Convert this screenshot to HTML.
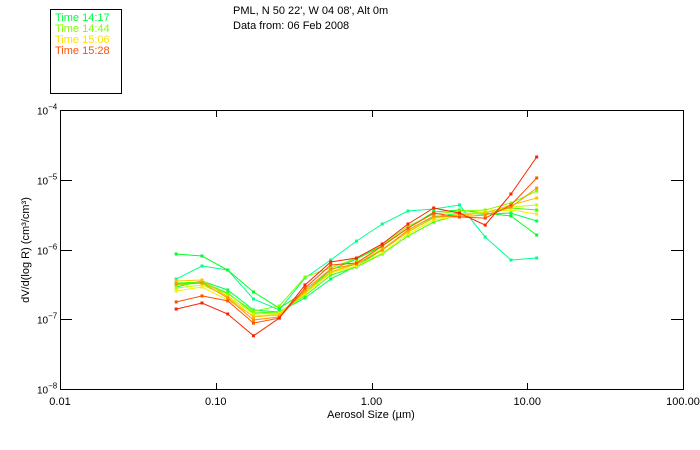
<!DOCTYPE html>
<html><head><meta charset="utf-8"><style>
html,body{margin:0;padding:0;background:#fff;}
svg{display:block;font-family:"Liberation Sans",sans-serif;}
</style></head><body>
<svg id="chart" width="700" height="450" viewBox="0 0 700 450">
<rect x="0" y="0" width="700" height="450" fill="#fff"/>
<rect x="50.5" y="9.5" width="71" height="84" fill="none" stroke="#000"/>
<g font-size="11">
<text x="55" y="21" fill="#00ff40">Time 14:17</text>
<text x="55" y="32" fill="#80ff00">Time 14:44</text>
<text x="55" y="43" fill="#ffe000">Time 15:06</text>
<text x="55" y="54" fill="#ff5000">Time 15:28</text>
</g>
<text x="233" y="14" font-size="11" fill="#000">PML, N 50 22', W 04 08', Alt 0m</text>
<text x="233" y="29" font-size="11" fill="#000">Data from: 06 Feb 2008</text>
<g id="axes"></g>
<g id="series"></g>
<text x="371" y="418" font-size="11" text-anchor="middle">Aerosol Size (µm)</text>
<text transform="translate(29,250) rotate(-90)" font-size="11" text-anchor="middle">dV/d(log R) (cm³/cm³)</text>
</svg>
<script>
// Particle size bins (µm)
const sizes = [0.0557,0.0816,0.1194,0.1747,0.2556,0.374,0.547,0.801,1.172,1.715,2.51,3.67,5.37,7.86,11.5];
const xTicks = [0.01,0.1,1,10,100];
const xTickLabels = ["0.01","0.10","1.00","10.00","100.00"];
const yTickExps = [-4,-5,-6,-7,-8];
const seriesColors = ["#ff2000","#ff5000","#ff9000","#ffc000","#f0f000","#c0ff00","#80ff00","#40ff00","#00ff20","#00ff50","#00ff90"];
// dV/dlogR in units of 1e-7 cm3/cm3
const s1 = [1.40,1.71,1.19,0.58,1.04,3.10,6.62,7.55,12.0,23.2,39.4,33.3,22.4,62.5,212];
const s2 = [1.77,2.16,1.83,0.88,1.04,2.80,5.99,6.40,11.2,20.3,33.3,29.2,28.2,43.4,106];
const s3 = [3.20,3.31,2.02,0.976,1.08,2.63,5.25,6.19,9.84,19.0,30.2,29.2,31.2,40.7,76];
const s4 = [3.53,3.65,2.09,1.08,1.15,2.46,4.75,6.19,9.84,17.8,28.2,31.2,33.3,43.4,54.7];
const s5 = [2.54,2.90,1.89,1.11,1.19,2.30,4.60,5.80,8.92,16.6,26.5,30.2,34.5,36.8,32.2];
const s6 = [2.80,3.10,2.16,1.19,1.23,2.38,4.75,6.62,10.2,18.4,28.2,32.2,34.5,40.7,43.4];
const s7 = [3.10,3.31,2.30,1.31,1.55,4.03,5.43,7.55,11.6,21.7,32.2,35.6,36.8,46.4,69];
const s8 = [3.31,3.42,2.38,1.23,1.27,2.16,4.30,5.61,8.62,15.6,24.8,31.2,34.5,39.4,36.8];
const s9 = [8.62,8.07,5.08,2.46,1.45,2.46,5.08,7.31,11.2,20.3,34.5,36.8,33.3,30.2,16.1];
const s10 = [2.90,3.53,2.63,1.36,1.27,2.02,3.77,5.80,9.84,17.8,29.2,33.3,32.2,33.3,25.6];
const s11 = [3.77,5.80,5.08,1.95,1.36,3.90,7.07,13.2,23.2,35.6,38.1,43.4,15.1,7.07,7.55];
const allSeries = [s11,s10,s9,s8,s7,s6,s5,s4,s3,s2,s1];
const allColors = [seriesColors[10],seriesColors[9],seriesColors[8],seriesColors[7],seriesColors[6],seriesColors[5],seriesColors[4],seriesColors[3],seriesColors[2],seriesColors[1],seriesColors[0]];

const NS="http://www.w3.org/2000/svg";
const L=60,R=683,T=110,B=389;
function xPos(v){return L+(Math.log10(v)+2)/4*(R-L);}
function yPos(v){const e=Math.log10(v*1e-7);return T+(-4-e)/4*(B-T);}
function yExpPos(e){return T+(-4-e)/4*(B-T);}
function mk(tag,attrs,parent){const el=document.createElementNS(NS,tag);for(const k in attrs)el.setAttribute(k,attrs[k]);parent.appendChild(el);return el;}

const axes=document.getElementById('axes');
const frame=mk('rect',{x:L+0.5,y:T+0.5,width:R-L,height:B-T,fill:'none',stroke:'#000','stroke-width':1},axes);


xTicks.forEach((t,i)=>{
  const x=Math.round(xPos(t))+0.5;
  const tb=mk('line',{x1:x,x2:x,y1:B,y2:B-6,stroke:'#000'},axes);
  
  
  const tt=mk('line',{x1:x,x2:x,y1:T,y2:T+7,stroke:'#000'},axes);
  
  
  const lb=mk('text',{x:xPos(t),y:B+16,'font-size':11,'text-anchor':'middle'},axes);
  lb.textContent=xTickLabels[i];
  
  
});
yTickExps.forEach(e=>{
  const y=Math.round(yExpPos(e))+0.5;
  const tl=mk('line',{x1:L,x2:L+12,y1:y,y2:y,stroke:'#000'},axes);
  
  
  const tr=mk('line',{x1:R,x2:R-12,y1:y,y2:y,stroke:'#000'},axes);
  
  
  const lb=mk('text',{x:37,y:y+4,'font-size':10},axes);
  
  
  lb.textContent='10';
  const sup=mk('tspan',{dy:-5,'font-size':8},lb);
  sup.textContent=String(e).replace('-','−');
});

const sg=document.getElementById('series');
allSeries.forEach((s,si)=>{
  const c=allColors[si];
  const pts=s.map((v,i)=>xPos(sizes[i]).toFixed(1)+','+yPos(v).toFixed(1)).join(' ');
  const pl=mk('polyline',{points:pts,fill:'none',stroke:c,'stroke-width':1},sg);
  
  
  s.forEach((v,i)=>{
    const m=mk('rect',{x:xPos(sizes[i])-1.5,y:yPos(v)-1.5,width:3,height:3,fill:c},sg);
    
    
  });
});
</script>
</body></html>
